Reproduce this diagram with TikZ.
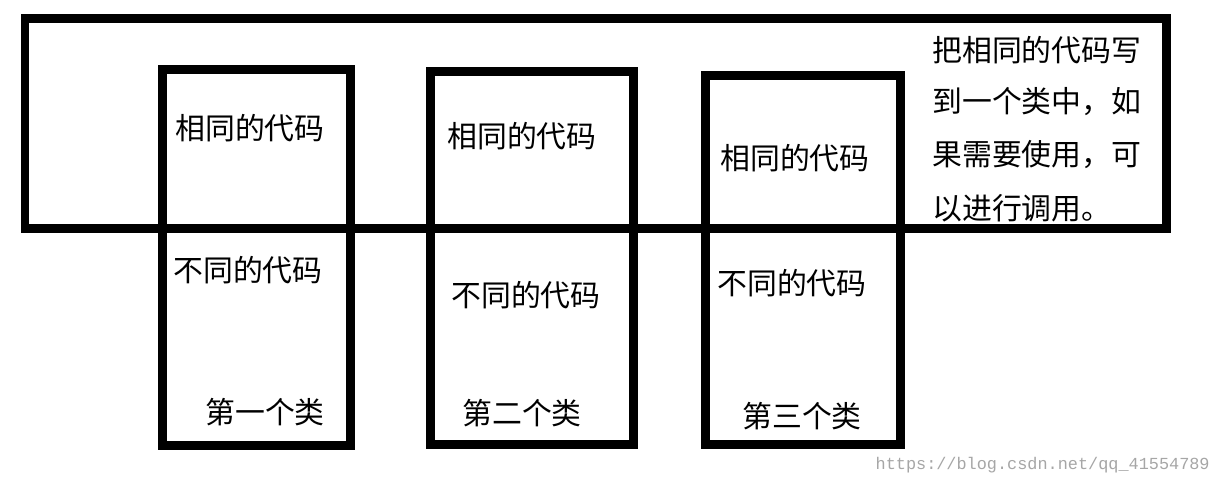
\documentclass[tikz,border=0pt]{standalone}
\usepackage{fontspec}
\newfontfamily\cjk{Noto Sans CJK SC}
\newfontfamily\mono{Liberation Mono}
\begin{document}
\begin{tikzpicture}[x=0.02cm,y=-0.02cm,
  box/.style={draw=black,line width=0.18cm},
  lbl/.style={font=\cjk\fontsize{17}{20}\selectfont,inner sep=0pt}]
\useasboundingbox (0,0) rectangle (1222,485);
\draw[box] (25,18) rectangle (1166,228);
\draw[box] (162,69) rectangle (350,445);
\draw[box] (430,71) rectangle (633,444);
\draw[box] (705,75) rectangle (900,444);
\node[lbl] (s1) at (250,128) {相同的代码};
\node[lbl] (d1) at (248,270) {不同的代码};
\node[lbl] (c1) at (265,412) {第一个类};
\node[lbl] (s2) at (522,136) {相同的代码};
\node[lbl] (d2) at (526,295) {不同的代码};
\node[lbl] (c2) at (522,413) {第二个类};
\node[lbl] (s3) at (795,158) {相同的代码};
\node[lbl] (d3) at (792,283) {不同的代码};
\node[lbl] (c3) at (802,416) {第三个类};
\node[lbl,anchor=west] (r1) at (932,50) {把相同的代码写};
\node[lbl,anchor=west] (r2) at (932,102) {到一个类中，如};
\node[lbl,anchor=west] (r3) at (932,155) {果需要使用，可};
\node[lbl,anchor=west] (r4) at (932,208) {以进行调用。};
\node[font=\mono\fontsize{9.6}{11}\selectfont,text=black!35,inner sep=0pt,anchor=east] (wm) at (1210,465) {https://blog.csdn.net/qq\_41554789};
\end{tikzpicture}
\end{document}
